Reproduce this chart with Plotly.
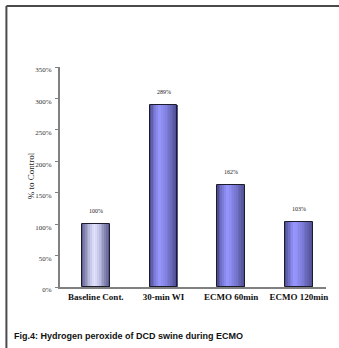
import plotly.graph_objects as go

# Data
categories = ["Baseline Cont.", "30-min WI", "ECMO 60min", "ECMO 120min"]
values = [100, 289, 162, 103]
y_ticks = [0, 50, 100, 150, 200, 250, 300, 350]
y_tick_labels = ["0%", "50%", "100%", "150%", "200%", "250%", "300%", "350%"]
y_title = "% to Control"
caption = "Fig.4: Hydrogen peroxide of DCD swine during ECMO"

W, H = 339, 348
L, R, T, B = 60, 11, 67, 61
pw, ph = W - L - R, H - T - B

BAR_W = 0.41
N_SLICES = 16


def lerp(c1, c2, t):
    return tuple(a + (b - a) * t for a, b in zip(c1, c2))


def shade(t, edge_l, peak, edge_r, peak_pos):
    # horizontal cylinder-style shading across a bar
    if t <= peak_pos:
        return lerp(edge_l, peak, (t / peak_pos) ** 0.7)
    return lerp(peak, edge_r, ((t - peak_pos) / (1 - peak_pos)) ** 1.3)


def rgb(c):
    return "rgb(%d,%d,%d)" % tuple(round(v) for v in c)


styles = [
    dict(edge_l=(70, 70, 125), peak=(228, 228, 255), edge_r=(80, 80, 135), peak_pos=0.45),
    dict(edge_l=(60, 60, 120), peak=(150, 150, 255), edge_r=(75, 75, 140), peak_pos=0.35),
    dict(edge_l=(60, 60, 120), peak=(150, 150, 255), edge_r=(75, 75, 140), peak_pos=0.35),
    dict(edge_l=(60, 60, 120), peak=(150, 150, 255), edge_r=(75, 75, 140), peak_pos=0.35),
]

fig = go.Figure()
sw = BAR_W / N_SLICES
for i in range(N_SLICES):
    t = (i + 0.5) / N_SLICES
    colors = [rgb(shade(t, **s)) for s in styles]
    fig.add_trace(go.Bar(
        x=categories, y=values, width=sw * 1.05, offset=-BAR_W / 2 + i * sw,
        marker=dict(color=colors, line=dict(width=0)),
        showlegend=False, hoverinfo="skip",
    ))

# outline of each bar
fig.add_trace(go.Bar(
    x=categories, y=values, width=BAR_W, offset=-BAR_W / 2,
    marker=dict(color="rgba(0,0,0,0)", line=dict(color="#1c1c2c", width=1)),
    showlegend=False,
))

serif = "Liberation Serif, Times New Roman, serif"
sans = "Liberation Sans, Arial, sans-serif"

annotations = [
    dict(x=c, y=v, text=f"{v}%", showarrow=False, yanchor="bottom", yshift=8,
         font=dict(family=serif, size=6, color="#222"))
    for c, v in zip(categories, values)
]
annotations.append(dict(
    x=(31 - L) / pw, y=(T + ph - 176) / ph, xref="paper", yref="paper",
    xanchor="center", yanchor="middle", showarrow=False, text=y_title, textangle=-90,
    font=dict(family=serif, size=9, color="#222"),
))
annotations.append(dict(
    x=(12 - L) / pw, y=(T + ph - 336) / ph, xref="paper", yref="paper",
    xanchor="left", yanchor="middle", showarrow=False, text=caption,
    font=dict(family=sans, size=9, color="#111", weight="bold"),
))

border = dict(color="#4a4a4a", width=2)
shapes = [
    dict(type="line", xref="paper", yref="paper",
         x0=(6 - L) / pw, x1=1.2, y0=(T + ph - 6) / ph, y1=(T + ph - 6) / ph, line=border),
    dict(type="line", xref="paper", yref="paper",
         x0=(6 - L) / pw, x1=(6 - L) / pw, y0=(T + ph - 6) / ph, y1=-0.4, line=border),
]

fig.update_layout(
    width=W, height=H,
    margin=dict(l=L, r=R, t=T, b=B),
    paper_bgcolor="white", plot_bgcolor="white",
    barmode="overlay", bargap=0,
    showlegend=False,
    annotations=annotations,
    shapes=shapes,
    xaxis=dict(
        range=[-0.53, 3.40], showgrid=False, zeroline=False,
        showline=True, linecolor="#808080", linewidth=2,
        ticks="", tickfont=dict(family=serif, size=9, color="#111", weight="bold"),
    ),
    yaxis=dict(
        range=[0, 350], tickvals=y_ticks, ticktext=y_tick_labels,
        showgrid=False, zeroline=False,
        showline=True, linecolor="#808080", linewidth=2,
        ticks="outside", ticklen=3, tickcolor="#808080",
        ticklabelshift=3, ticklabelstandoff=2,
        tickfont=dict(family=serif, size=7, color="#333"),
    ),
)

fig.write_html("out.html")
